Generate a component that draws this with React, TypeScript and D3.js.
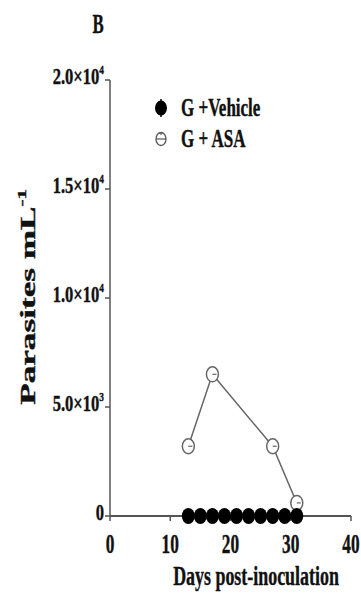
import React from 'react';
import * as d3 from 'd3';

const vehicleDays = [13, 15, 17, 19, 21, 23, 25, 27, 29, 31];
const vehicleValues = [0, 0, 0, 0, 0, 0, 0, 0, 0, 0];
const asaDays = [13, 17, 27, 31];
const asaValues = [3200, 6500, 3200, 600];
const xTicks = [0, 10, 20, 30, 40];
const yTicks = [0, 5000, 10000, 15000, 20000];
const yTickLabels = [
  { base: '0', sup: '' },
  { base: '5.0×10', sup: '3' },
  { base: '1.0×10', sup: '4' },
  { base: '1.5×10', sup: '4' },
  { base: '2.0×10', sup: '4' },
];

const W = 361;
const H = 600;
const font = '"Liberation Serif", "Times New Roman", serif';

export default function App() {
  const x = d3.scaleLinear().domain([0, 40]).range([110, 351]);
  const y = d3.scaleLinear().domain([0, 20000]).range([516, 80]);

  const asaPts = asaDays.map((d, i) => [x(d), y(asaValues[i])] as [number, number]);
  const line = d3.line()(asaPts) || '';
  const axisColor = '#555';
  const ink = { fill: '#111', stroke: '#111', strokeWidth: 0.4 };

  return (
    <svg width={W} height={H} style={{ position: 'absolute', left: 0, top: 0 }} fontFamily={font}>
      <rect width={W} height={H} fill="#fff" />

      <text transform={`translate(98,33) scale(0.6,1)`} fontSize={28} fontWeight="bold" textAnchor="middle" {...ink}>B</text>

      {/* y axis */}
      <line x1={x(0)} x2={x(0)} y1={y(20000)} y2={y(0)} stroke={axisColor} strokeWidth={1.5} />
      {yTicks.map((t, i) => (
        <g key={t}>
          <line x1={x(0) - 5} x2={x(0)} y1={y(t)} y2={y(t)} stroke={axisColor} strokeWidth={1.5} />
          <text transform={`translate(${x(0) - 6},${y(t) + 4}) scale(0.72,1)`} fontSize={23} fontWeight="bold" textAnchor="end" {...ink}>
            {yTickLabels[i].base}
            {yTickLabels[i].sup && <tspan fontSize={13} dy={-10}>{yTickLabels[i].sup}</tspan>}
          </text>
        </g>
      ))}

      {/* x axis */}
      <line x1={x(0)} x2={x(40)} y1={y(0)} y2={y(0)} stroke={axisColor} strokeWidth={2} />
      {xTicks.map(t => (
        <g key={t}>
          <line x1={x(t)} x2={x(t)} y1={y(0)} y2={y(0) + 5} stroke={axisColor} strokeWidth={1.5} />
          <text transform={`translate(${x(t)},553) scale(0.64,1)`} fontSize={27} fontWeight="bold" textAnchor="middle" {...ink}>{t}</text>
        </g>
      ))}

      <text transform={`translate(256,585) scale(0.64,1)`} fontSize={28} fontWeight="bold" textAnchor="middle" {...ink}>Days post-inoculation</text>

      <text transform={`translate(35,297) rotate(-90) scale(1.6,1)`} fontSize={22} fontWeight="bold" textAnchor="middle" {...ink}>
        Parasites mL<tspan fontSize={13} dy={-9}>-1</tspan>
      </text>

      {/* ASA series */}
      <path d={line} fill="none" stroke="#666" strokeWidth={1.5} />
      {asaPts.map(([px, py], i) => (
        <g key={i}>
          <ellipse cx={px} cy={py} rx={6} ry={7.5} fill="#fff" stroke="#666" strokeWidth={1.5} />
          <line x1={px} x2={px + 4} y1={py} y2={py} stroke="#666" strokeWidth={1.2} />
        </g>
      ))}

      {/* Vehicle series */}
      {vehicleDays.map((d, i) => (
        <ellipse key={d} cx={x(d)} cy={y(vehicleValues[i])} rx={6.5} ry={8} fill="#000" />
      ))}

      {/* legend */}
      <ellipse cx={161} cy={108} rx={6} ry={7.5} fill="#000" />
      <line x1={161} x2={161} y1={99} y2={117} stroke="#000" strokeWidth={1.5} />
      <text transform={`translate(181,116) scale(0.68,1)`} fontSize={25} fontWeight="bold" {...ink}>G +Vehicle</text>
      <ellipse cx={161} cy={139} rx={5} ry={6.5} fill="#fff" stroke="#555" strokeWidth={1.3} />
      <line x1={156} x2={166} y1={139} y2={139} stroke="#555" strokeWidth={1.2} />
      <line x1={161} x2={161} y1={132} y2={135} stroke="#555" strokeWidth={1.2} />
      <text transform={`translate(181,147) scale(0.68,1)`} fontSize={25} fontWeight="bold" {...ink}>G + ASA</text>
    </svg>
  );
}
